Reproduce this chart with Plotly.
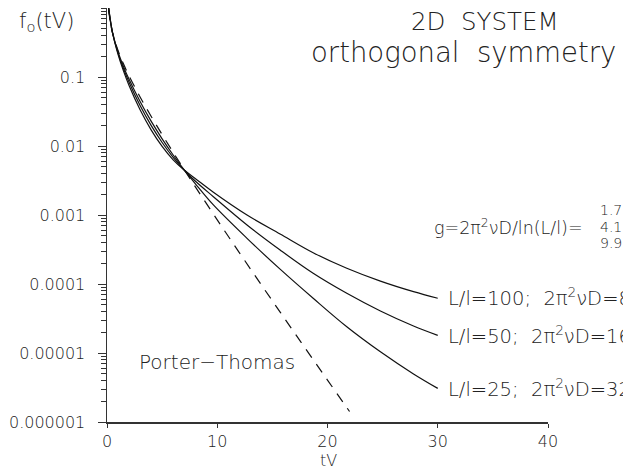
import plotly.graph_objects as go

# ---- data ----
t_pt = [0.15, 0.3, 0.5, 1, 1.5, 2, 3, 4, 5, 6, 7, 8, 10, 12, 14, 16, 18, 20, 22]
f_pt = [0.956, 0.627, 0.4394, 0.2420, 0.1539, 0.1038, 0.0514, 0.0270, 0.01464,
        0.00811, 0.00455, 0.00258, 0.000850, 0.0002855, 9.72e-5, 3.35e-5,
        1.16e-5, 4.05e-6, 1.42e-6]

t_g = [0.13, 0.2, 0.5, 1, 1.5, 2, 3, 4, 5, 6, 7, 8, 9.65, 12.7, 15.7, 18.7, 21.75, 24.8, 27.8, 30]
f_g17 = [1.10, 0.881, 0.440, 0.213, 0.1216, 0.0753, 0.0335, 0.01714, 0.00986, 0.00630,
         0.00448, 0.00339, 0.00214, 0.00100, 0.000531, 0.000284, 0.000169, 0.000110,
         7.74e-5, 6.21e-5]
f_g41 = [1.08, 0.855, 0.440, 0.222, 0.1315, 0.0838, 0.0386, 0.0199, 0.01125, 0.00686,
         0.00447, 0.00311, 0.00184, 0.000716, 0.000311, 0.000143, 7.33e-5, 4.06e-5,
         2.46e-5, 1.80e-5]
f_g99 = [1.06, 0.832, 0.440, 0.231, 0.1413, 0.0925, 0.0441, 0.0229, 0.0127, 0.00741,
         0.00451, 0.00286, 0.00140, 0.000459, 0.000164, 6.21e-5, 2.40e-5, 1.04e-5,
         4.97e-6, 3.07e-6]

x_ticks = [0, 10, 20, 30, 40]
y_ticks = [1e-1, 1e-2, 1e-3, 1e-4, 1e-5, 1e-6]
y_tick_text = ["0.1", "0.01", "0.001", "0.0001", "0.00001", "0.000001"]

curve_labels = ["L/l=100;\u00a0\u00a02π<sup>2</sup>νD=8",
                "L/l=50;\u00a0\u00a02π<sup>2</sup>νD=16",
                "L/l=25;\u00a0\u00a02π<sup>2</sup>νD=32"]
g_values = ["1.7", "4.1", "9.9"]

# ---- figure ----
W, H = 623, 470
L, R, T, B = 107, 548, 8, 422
FONT = "DejaVu Sans"
TXT = "#222222"

def px(x):
    return (x - L) / (R - L)

def py(y):
    return (B - y) / (B - T)

fig = go.Figure()
fig.add_trace(go.Scatter(x=t_pt, y=f_pt, mode="lines", line_shape="spline",
                         line=dict(color="#111111", width=1.2, dash="10px,8px")))
for f in (f_g17, f_g41, f_g99):
    fig.add_trace(go.Scatter(x=t_g, y=f, mode="lines", line_shape="spline",
                             line=dict(color="#111111", width=1.2)))

ann = []
def add_text(text, x, y, size, xanchor="left", yanchor="middle"):
    ann.append(dict(text=text, x=px(x), y=py(y), xref="paper", yref="paper",
                    showarrow=False, xanchor=xanchor, yanchor=yanchor,
                    font=dict(family=FONT, size=size, color=TXT, weight=300)))

add_text("f<sub>o</sub>(tV)", 47, 22, 21, xanchor="center")
add_text("2D\u00a0\u00a0SYSTEM", 485, 21, 24.5, xanchor="center")
add_text("orthogonal\u00a0\u00a0symmetry", 463, 51.5, 27.5, xanchor="center")
add_text("g=2π<sup>2</sup>νD/ln(L/l)=", 432, 227, 17.5)
for v, yy in zip(g_values, [210, 227, 243]):
    add_text(v, 598, yy, 14)
for lab, yy in zip(curve_labels, [297, 335, 388]):
    add_text(lab, 446, yy, 19.5)
add_text("Porter\u2212Thomas", 137, 362, 20)
add_text("tV", 328, 460, 16, xanchor="center")

fig.update_layout(
    width=W, height=H,
    margin=dict(l=L, r=W - R, t=T, b=H - B, autoexpand=False),
    paper_bgcolor="white", plot_bgcolor="white",
    showlegend=False,
    annotations=ann,
    font=dict(family=FONT, size=16, color=TXT),
    xaxis=dict(range=[0, 40], tickvals=x_ticks, showgrid=False, zeroline=False,
               automargin=False,
               showline=True, linecolor="#333333", linewidth=1.5,
               ticks="outside", ticklen=4, tickcolor="#333333", tickwidth=1,
               tickfont=dict(family=FONT, size=16, color=TXT, weight=300)),
    yaxis=dict(type="log", range=[-6, 0], tickvals=y_ticks, ticktext=y_tick_text,
               showgrid=False, zeroline=False, automargin=False,
               showline=True, linecolor="#333333", linewidth=1.5,
               ticks="outside", ticklen=8, tickcolor="#333333", tickwidth=1,
               ticklabelstandoff=9,
               minor=dict(ticks="outside", ticklen=5, tickcolor="#333333",
                          tickwidth=1, dtick="D1", showgrid=False),
               tickfont=dict(family=FONT, size=16, color=TXT, weight=300)),
)

fig.write_html("out.html",
               config={"displayModeBar": False, "staticPlot": True},
               post_script="document.body.style.margin='0';"
                           "document.body.style.padding='0';"
                           "document.body.style.overflow='hidden';")
